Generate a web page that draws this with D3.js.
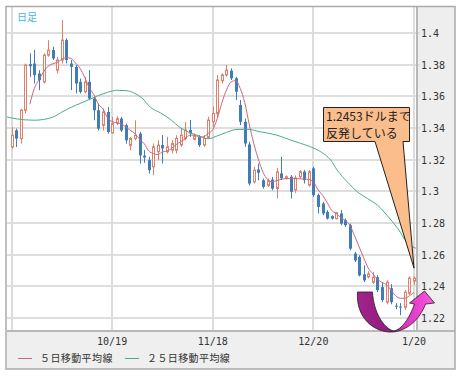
<!DOCTYPE html>
<html>
<head>
<meta charset="utf-8">
<script src="https://cdn.jsdelivr.net/npm/d3@7"></script>
<style>
  body { margin: 0; background: #fff; }
  svg { display: block; }
</style>
</head>
<body>
<svg id="chart" width="464" height="378"></svg>
<script>
// daily candles (index 0 = first bar)
var opens = [1.3280,1.3385,1.3333,1.3512,1.3803,1.3807,1.3744,1.3691,1.3860,1.3892,
  1.3765,1.3829,1.3955,1.3807,1.3786,1.3691,1.3628,1.3691,1.3586,1.3512,
  1.3417,1.3501,1.3369,1.3432,1.3459,1.3417,1.3290,1.3333,1.3364,1.3225,
  1.3197,1.3155,1.3250,1.3292,1.3250,1.3260,1.3260,1.3292,1.3334,1.3387,
  1.3328,1.3344,1.3292,1.3340,1.3440,1.3492,1.3699,1.3735,1.3762,1.3714,
  1.3545,1.3439,1.3296,1.3060,1.3138,1.3070,1.3038,1.3074,1.3018,1.3113,
  1.3082,1.3092,1.3008,1.3092,1.3124,1.3039,1.3145,1.2976,1.2923,1.2870,
  1.2843,1.2828,1.2860,1.2818,1.2786,1.2607,1.2586,1.2476,1.2460,1.2426,
  1.2458,1.2395,1.2300,1.2388,1.2278,1.2272,1.2268,1.2356,1.2433];
var highs = [1.3406,1.3396,1.3523,1.3807,1.3871,1.3892,1.3765,1.3871,1.3955,1.3913,
  1.3850,1.4082,1.3966,1.3829,1.3797,1.3712,1.3723,1.3765,1.3596,1.3554,
  1.3523,1.3533,1.3470,1.3474,1.3470,1.3428,1.3343,1.3449,1.3375,1.3260,
  1.3218,1.3302,1.3323,1.3355,1.3344,1.3323,1.3355,1.3397,1.3439,1.3450,
  1.3366,1.3355,1.3355,1.3471,1.3534,1.3735,1.3745,1.3798,1.3777,1.3724,
  1.3577,1.3460,1.3313,1.3154,1.3176,1.3081,1.3081,1.3091,1.3147,1.3218,
  1.3100,1.3103,1.3100,1.3134,1.3134,1.3134,1.3155,1.2986,1.2934,1.2881,
  1.2849,1.2870,1.2881,1.2828,1.2796,1.2617,1.2596,1.2533,1.2495,1.2490,
  1.2471,1.2426,1.2439,1.2414,1.2294,1.2294,1.2376,1.2464,1.2464];
var lows = [1.3269,1.3280,1.3301,1.3491,1.3723,1.3681,1.3639,1.3681,1.3850,1.3829,
  1.3744,1.3807,1.3807,1.3639,1.3618,1.3618,1.3618,1.3575,1.3449,1.3385,
  1.3385,1.3364,1.3364,1.3417,1.3375,1.3301,1.3259,1.3322,1.3175,1.3180,
  1.3112,1.3102,1.3197,1.3176,1.3239,1.3239,1.3239,1.3281,1.3323,1.3344,
  1.3323,1.3281,1.3281,1.3334,1.3408,1.3471,1.3682,1.3724,1.3703,1.3577,
  1.3418,1.3281,1.3038,1.3049,1.3070,1.3017,1.3028,1.3007,1.2955,1.3071,
  1.3075,1.2955,1.2990,1.3081,1.3050,1.3029,1.2965,1.2860,1.2849,1.2822,
  1.2822,1.2822,1.2786,1.2775,1.2628,1.2554,1.2463,1.2427,1.2450,1.2414,
  1.2363,1.2300,1.2287,1.2287,1.2256,1.2218,1.2250,1.2345,1.2407];
var closes = [1.3354,1.3333,1.3512,1.3797,1.3790,1.3734,1.3702,1.3860,1.3892,1.3839,
  1.3829,1.3955,1.3829,1.3786,1.3681,1.3628,1.3691,1.3586,1.3512,1.3396,
  1.3501,1.3375,1.3428,1.3459,1.3385,1.3322,1.3333,1.3354,1.3227,1.3214,
  1.3134,1.3281,1.3292,1.3271,1.3281,1.3302,1.3334,1.3355,1.3387,1.3366,
  1.3349,1.3292,1.3334,1.3450,1.3492,1.3703,1.3735,1.3766,1.3714,1.3629,
  1.3439,1.3302,1.3049,1.3133,1.3117,1.3028,1.3066,1.3017,1.3123,1.3082,
  1.3092,1.2997,1.3084,1.3124,1.3071,1.3124,1.2976,1.2902,1.2860,1.2828,
  1.2828,1.2864,1.2796,1.2786,1.2638,1.2564,1.2469,1.2438,1.2478,1.2458,
  1.2376,1.2313,1.2426,1.2300,1.2272,1.2266,1.2363,1.2452,1.2452];

// moving averages as traced: [bar index, value]
var ma5 = [[4,1.3550],[5,1.3650],[6,1.3705],[8,1.3790],[10,1.3815],[12,1.3845],[13,1.3839],
  [14,1.3810],[15,1.3776],[16,1.3720],[17,1.3655],[18,1.3610],[19,1.3550],[20,1.3520],
  [21,1.3465],[22,1.3440],[24,1.3425],[26,1.3385],[27,1.3364],[28,1.3330],[29,1.3301],
  [30,1.3255],[31,1.3239],[32,1.3232],[33,1.3249],[34,1.3255],[35,1.3271],[36,1.3296],
  [37,1.3313],[38,1.3332],[39,1.3355],[40,1.3355],[41,1.3342],[42,1.3345],[43,1.3366],
  [44,1.3390],[45,1.3460],[46,1.3560],[47,1.3640],[48,1.3690],[49,1.3700],[50,1.3650],
  [51,1.3560],[52,1.3420],[53,1.3300],[54,1.3200],[55,1.3120],[56,1.3075],[57,1.3060],
  [58,1.3068],[60,1.3080],[62,1.3080],[64,1.3078],[65,1.3075],[66,1.3060],[67,1.3010],
  [68,1.2975],[69,1.2930],[70,1.2880],[71,1.2860],[72,1.2835],[73,1.2815],[74,1.2785],
  [75,1.2720],[76,1.2650],[77,1.2580],[78,1.2515],[79,1.2480],[80,1.2445],[81,1.2425],
  [82,1.2410],[83,1.2375],[84,1.2340],[85,1.2325],[86,1.2325],[87,1.2340],[88,1.2361]];
var ma25 = [[-1.5,1.3474],[1,1.3458],[5,1.3449],[9,1.3468],[11,1.3500],[13,1.3530],
  [15,1.3555],[17,1.3580],[19,1.3605],[21,1.3625],[23,1.3638],[25,1.3636],[27,1.3618],
  [28.5,1.3590],[30.4,1.3530],[32.6,1.3495],[34.7,1.3455],[37,1.3400],[39,1.3370],
  [41,1.3350],[43,1.3332],[45,1.3350],[47,1.3372],[49.3,1.3391],[51.5,1.3392],
  [54.4,1.3376],[58,1.3355],[61,1.3324],[63.2,1.3303],[65.4,1.3281],[67.6,1.3250],
  [69.8,1.3197],[71.2,1.3134],[73.4,1.3060],[75.6,1.2997],[77.8,1.2955],[80,1.2913],
  [82.2,1.2845],[84.4,1.2768],[86.8,1.2665],[88.4,1.2641]];

var yTicks = [1.22,1.24,1.26,1.28,1.3,1.32,1.34,1.36,1.38,1.4];
var xTickIdx = [0,22,44,66,88];
var xTickLabels = ["","10/19","11/18","12/20","1/20"];
var legendNames = ["５日移動平均線","２５日移動平均線"];
var noteLines = ["1.2453ドルまで","反発している"];

var plot = { left: 7, right: 417, top: 7, bottom: 331 };
var upColor = "#e0806c", downColor = "#3f7cb8";
var ma5Color = "#c8687e", ma25Color = "#45b084";

var svg = d3.select("#chart");

var x = d3.scaleLinear().domain([0, 88]).range([11.5, 414]);
var y = d3.scaleLinear().domain([1.2118, 1.4164]).range([plot.bottom, plot.top]);

// panels behind the plot
svg.append("rect").attr("x", plot.right).attr("y", plot.top)
  .attr("width", 455 - plot.right).attr("height", plot.bottom - plot.top).attr("fill", "#eeeeee");
svg.append("rect").attr("x", plot.left).attr("y", plot.bottom)
  .attr("width", 455 - plot.left).attr("height", 369 - plot.bottom).attr("fill", "#efefef");

// grid
svg.append("g").selectAll("line").data(yTicks).enter().append("line")
  .attr("x1", plot.left).attr("x2", plot.right + 3)
  .attr("y1", d => Math.round(y(d))).attr("y2", d => Math.round(y(d)))
  .attr("stroke", "#dedede").attr("stroke-width", 2);
svg.append("g").selectAll("line").data(xTickIdx).enter().append("line")
  .attr("x1", d => Math.round(x(d))).attr("x2", d => Math.round(x(d)))
  .attr("y1", plot.top).attr("y2", plot.bottom)
  .attr("stroke", "#dcdcdc").attr("stroke-width", 2);

svg.append("defs").append("clipPath").attr("id", "clip")
  .append("rect").attr("x", plot.left).attr("y", plot.top)
  .attr("width", plot.right - plot.left).attr("height", plot.bottom - plot.top);

var g = svg.append("g").attr("clip-path", "url(#clip)");

var bars = d3.range(opens.length).map(i => ({
  i: i, o: opens[i], h: highs[i], l: lows[i], c: closes[i]
}));

// wicks
g.selectAll(".wick").data(bars).enter().append("line")
  .attr("x1", d => Math.round(x(d.i)) + 0.5).attr("x2", d => Math.round(x(d.i)) + 0.5)
  .attr("y1", d => y(d.h)).attr("y2", d => y(d.l))
  .attr("stroke", d => d.c >= d.o ? upColor : downColor).attr("stroke-width", 1);

// bodies
g.selectAll(".body").data(bars).enter().append("rect")
  .attr("x", d => d.c >= d.o ? Math.round(x(d.i)) - 0.5 : Math.round(x(d.i)) - 1)
  .attr("y", d => y(Math.max(d.o, d.c)))
  .attr("width", d => d.c >= d.o ? 2 : 3)
  .attr("height", d => Math.max(1, Math.abs(y(d.o) - y(d.c))))
  .attr("fill", d => d.c >= d.o ? "#fff" : downColor)
  .attr("stroke", d => d.c >= d.o ? upColor : "none")
  .attr("stroke-width", 1);

var line = d3.line().x(d => x(d[0])).y(d => y(d[1])).curve(d3.curveMonotoneX);
g.append("path").datum(ma25).attr("d", line)
  .attr("fill", "none").attr("stroke", ma25Color).attr("stroke-width", 1);
g.append("path").datum(ma5).attr("d", line)
  .attr("fill", "none").attr("stroke", ma5Color).attr("stroke-width", 1);

// frame lines
svg.append("line").attr("x1", plot.right).attr("x2", plot.right)
  .attr("y1", plot.top).attr("y2", plot.bottom).attr("stroke", "#b8b8b8").attr("stroke-width", 2);
svg.append("line").attr("x1", plot.left).attr("x2", 455)
  .attr("y1", plot.bottom).attr("y2", plot.bottom).attr("stroke", "#b8b8b8").attr("stroke-width", 2);
svg.append("rect").attr("x", 6).attr("y", 6.5).attr("width", 449).attr("height", 362.5)
  .attr("fill", "none").attr("stroke", "#aaaaaa").attr("stroke-width", 1.5);

// y labels
svg.append("g").selectAll("text").data(yTicks).enter().append("text")
  .attr("x", plot.right + 4).attr("y", d => y(d) + 4)
  .attr("font-family", "DejaVu Sans Mono, monospace").attr("font-size", 10)
  .attr("fill", "#333").text(d => d3.format("")(+d.toFixed(2)));

// x labels
svg.append("g").selectAll("text").data(xTickIdx).enter().append("text")
  .attr("x", d => x(d)).attr("y", 345).attr("text-anchor", "middle")
  .attr("font-family", "DejaVu Sans Mono, monospace").attr("font-size", 10)
  .attr("fill", "#333").text((d, k) => xTickLabels[k]);

// legend
var legX = [18, 125];
[ma5Color, ma25Color].forEach((col, k) => {
  svg.append("line").attr("x1", legX[k]).attr("x2", legX[k] + 14)
    .attr("y1", 358.5).attr("y2", 358.5).attr("stroke", col).attr("stroke-width", 1);
  svg.append("text").attr("x", legX[k] + 22).attr("y", 362)
    .attr("font-family", "Noto Sans CJK JP").attr("font-size", 10)
    .attr("letter-spacing", 0.4).attr("fill", "#333").text(legendNames[k]);
});

svg.append("text").attr("x", 17).attr("y", 21)
  .attr("font-family", "Noto Sans CJK JP").attr("font-size", 10)
  .attr("fill", "#4ab0e6").text("日足");

// callout
var tip = [x(88), y(1.2515)];
svg.append("path")
  .attr("d", `M323.5,141.5 L375,141.5 L${tip[0]},${tip[1]} L403,141.5 L409.5,141.5 L409.5,107.5 L323.5,107.5 Z`)
  .attr("fill", "#fbbd8c").attr("stroke", "#222").attr("stroke-width", 1);
svg.append("line").attr("x1", 376).attr("x2", 402).attr("y1", 141.5).attr("y2", 141.5)
  .attr("stroke", "#fbbd8c").attr("stroke-width", 1.5);
noteLines.forEach((t, k) => {
  svg.append("text").attr("x", 326).attr("y", 121 + k * 17)
    .attr("font-family", "Noto Sans CJK JP").attr("font-size", 12)
    .attr("fill", "#222").text(t);
});

// curved magenta arrow
var bx = x(83.3), by = plot.bottom + 1;
var grad = svg.select("defs").append("linearGradient").attr("id", "arrowGrad")
  .attr("gradientUnits", "userSpaceOnUse")
  .attr("x1", bx - 35).attr("x2", bx + 42).attr("y1", 0).attr("y2", 0);
grad.append("stop").attr("offset", 0).attr("stop-color", "#a3238c");
grad.append("stop").attr("offset", 0.45).attr("stop-color", "#8e1c7c");
grad.append("stop").attr("offset", 0.6).attr("stop-color", "#d934bd");
grad.append("stop").attr("offset", 1).attr("stop-color", "#ff55e4");
var p = (dx, dy) => (bx + dx) + "," + (by + dy);
svg.append("path")
  .attr("d", "M" + p(-35, -40) +
    " C" + p(-37, -14) + " " + p(-18, 1) + " " + p(0, 0) +
    " C" + p(14, -1) + " " + p(27, -12) + " " + p(33, -28) +
    " L" + p(42, -29) + " L" + p(32, -41) + " L" + p(17, -29) + " L" + p(22, -28) +
    " C" + p(17, -14) + " " + p(9, -2) + " " + p(1, -1) +
    " C" + p(-9, -4) + " " + p(-19, -20) + " " + p(-20, -40) + " Z")
  .attr("fill", "url(#arrowGrad)").attr("stroke", "#222").attr("stroke-width", 0.8);
</script>
</body>
</html>
